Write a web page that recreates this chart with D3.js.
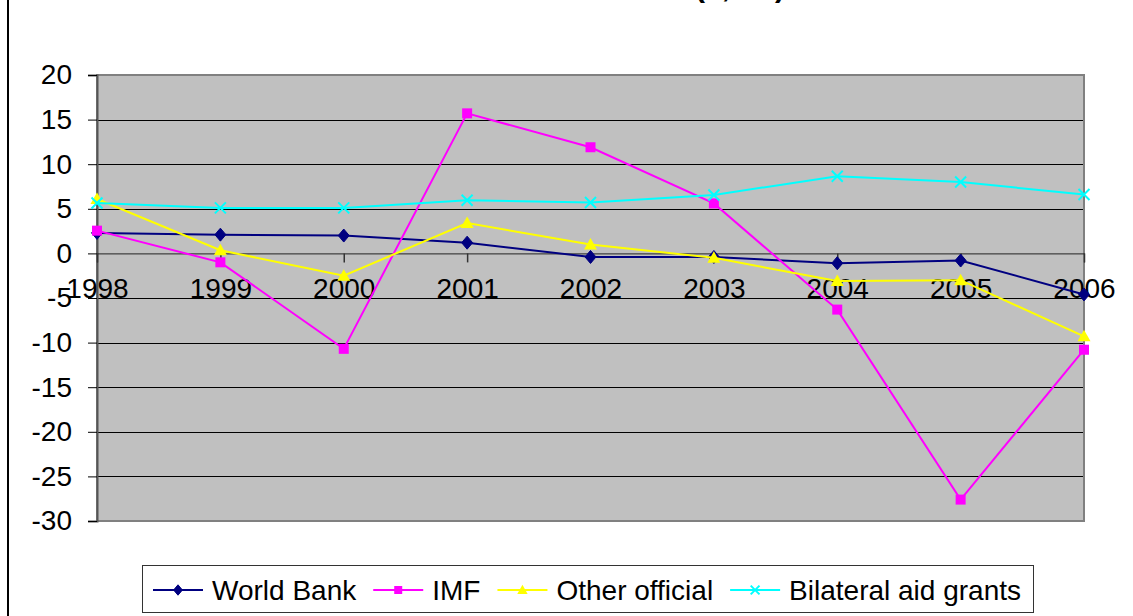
<!DOCTYPE html>
<html>
<head>
<meta charset="utf-8">
<script src="https://cdn.jsdelivr.net/npm/d3@7"></script>
<style>
  html, body { margin: 0; padding: 0; background: #fff; }
  svg { display: block; font-family: "Liberation Sans", Arial, sans-serif; }
</style>
</head>
<body>
<svg id="chart" width="1133" height="616"></svg>
<script>
// Net flows by source, 1998-2006
const years = ["1998", "1999", "2000", "2001", "2002", "2003", "2004", "2005", "2006"];
const worldBank = [2.3, 2.1, 2.0, 1.2, -0.4, -0.4, -1.1, -0.8, -4.6];
const imf = [2.55, -1.0, -10.7, 15.7, 11.9, 5.6, -6.3, -27.6, -10.8];
const otherOfficial = [6.1, 0.35, -2.5, 3.4, 1.0, -0.5, -3.1, -3.0, -9.3];
const bilateralGrants = [5.65, 5.1, 5.1, 5.95, 5.7, 6.55, 8.65, 8.0, 6.6];
const seriesNames = ["World Bank", "IMF", "Other official", "Bilateral aid grants"];
const yTicks = [20, 15, 10, 5, 0, -5, -10, -15, -20, -25, -30];

const series = [
  { name: seriesNames[0], values: worldBank, color: "#000080", marker: "diamond" },
  { name: seriesNames[1], values: imf, color: "#FF00FF", marker: "square" },
  { name: seriesNames[2], values: otherOfficial, color: "#FFFF00", marker: "triangle" },
  { name: seriesNames[3], values: bilateralGrants, color: "#00FFFF", marker: "cross" }
];

const svg = d3.select("#chart");
const plot = { left: 97, right: 1084, top: 75, bottom: 521 };

const x = d3.scalePoint().domain(years).range([plot.left, plot.right]);
const y = d3.scaleLinear().domain([-30, 20]).range([plot.bottom, plot.top]);

// chart frame edge
svg.append("line").attr("x1", 8).attr("x2", 8).attr("y1", 0).attr("y2", 616)
  .attr("stroke", "#000").attr("stroke-width", 2);

// title (runs off the top of the frame)
svg.append("text").attr("x", 785).attr("y", -3).attr("text-anchor", "end")
  .attr("font-size", 30).attr("font-weight", "bold").attr("fill", "#000")
  .text("Net official flows ($, bn)");

// plot background
svg.append("rect").attr("x", plot.left).attr("y", plot.top)
  .attr("width", plot.right - plot.left).attr("height", plot.bottom - plot.top)
  .attr("fill", "#C0C0C0");

// gridlines
svg.append("g").selectAll("line").data(yTicks.filter(v => v !== 20 && v !== -30 && v !== 0))
  .join("line")
  .attr("x1", plot.left).attr("x2", plot.right)
  .attr("y1", d => Math.round(y(d)) + 0.5).attr("y2", d => Math.round(y(d)) + 0.5)
  .attr("stroke", "#000").attr("stroke-width", 1);

// plot border
svg.append("rect").attr("x", plot.left).attr("y", plot.top)
  .attr("width", plot.right - plot.left).attr("height", plot.bottom - plot.top)
  .attr("fill", "none").attr("stroke", "#808080").attr("stroke-width", 2);

// y axis
const yAxis = d3.axisLeft(y).tickValues(yTicks).tickSize(9).tickPadding(16)
  .tickFormat(d => String(d));
const gy = svg.append("g").attr("transform", `translate(${plot.left},0)`).call(yAxis);
gy.select(".domain").attr("stroke", "#555").attr("stroke-width", 2);
gy.selectAll(".tick line").attr("stroke", "#000");
gy.selectAll(".tick text").attr("font-size", 28).attr("fill", "#000")
  .attr("font-family", "Liberation Sans, Arial, sans-serif");

// x axis along zero
const xAxis = d3.axisBottom(x).tickSize(9).tickPadding(16);
const gx = svg.append("g").attr("transform", `translate(0,${y(0)})`).call(xAxis);
gx.select(".domain").attr("stroke", "#222").attr("stroke-width", 1);
gx.selectAll(".tick line").attr("stroke", "#333").attr("stroke-width", 1.5);
gx.selectAll(".tick text").attr("font-size", 28).attr("fill", "#000")
  .attr("font-family", "Liberation Sans, Arial, sans-serif");

// marker shapes
function drawMarker(g, type, cx, cy, color, s) {
  if (type === "diamond") {
    g.append("path")
      .attr("d", `M${cx},${cy - 6.5 * s}L${cx + 5.5 * s},${cy}L${cx},${cy + 6.5 * s}L${cx - 5.5 * s},${cy}Z`)
      .attr("fill", color).attr("stroke", color).attr("stroke-width", 1);
  } else if (type === "square") {
    g.append("rect").attr("x", cx - 5 * s).attr("y", cy - 5 * s)
      .attr("width", 10 * s).attr("height", 10 * s).attr("fill", color);
  } else if (type === "triangle") {
    g.append("path")
      .attr("d", `M${cx},${cy - 6.5 * s}L${cx + 6.5 * s},${cy + 5 * s}L${cx - 6.5 * s},${cy + 5 * s}Z`)
      .attr("fill", color);
  } else {
    const r = 5.5 * s;
    g.append("path")
      .attr("d", `M${cx - r},${cy - r}L${cx + r},${cy + r}M${cx - r},${cy + r}L${cx + r},${cy - r}`)
      .attr("stroke", color).attr("stroke-width", 2).attr("fill", "none");
  }
}

const line = d3.line().x((d, i) => x(years[i])).y(d => y(d));

series.forEach(s => {
  const g = svg.append("g");
  g.append("path").datum(s.values).attr("d", line)
    .attr("fill", "none").attr("stroke", s.color).attr("stroke-width", 2);
  s.values.forEach((v, i) => drawMarker(g, s.marker, x(years[i]), y(v), s.color, 1));
});

// legend
const legend = svg.append("g");
legend.append("rect").attr("x", 142.5).attr("y", 565.5)
  .attr("width", 891).attr("height", 47)
  .attr("fill", "#fff").attr("stroke", "#333").attr("stroke-width", 1);
let lx = 153;
const ly = 590;
series.forEach(s => {
  const g = legend.append("g");
  g.append("line").attr("x1", lx).attr("x2", lx + 50).attr("y1", ly).attr("y2", ly)
    .attr("stroke", s.color).attr("stroke-width", 2);
  drawMarker(g, s.marker, lx + 25, ly, s.color, 0.8);
  const t = g.append("text").attr("x", lx + 59).attr("y", ly + 10)
    .attr("font-size", 28).attr("fill", "#000").text(s.name);
  lx = lx + 59 + t.node().getComputedTextLength() + 17;
});
</script>
</body>
</html>
